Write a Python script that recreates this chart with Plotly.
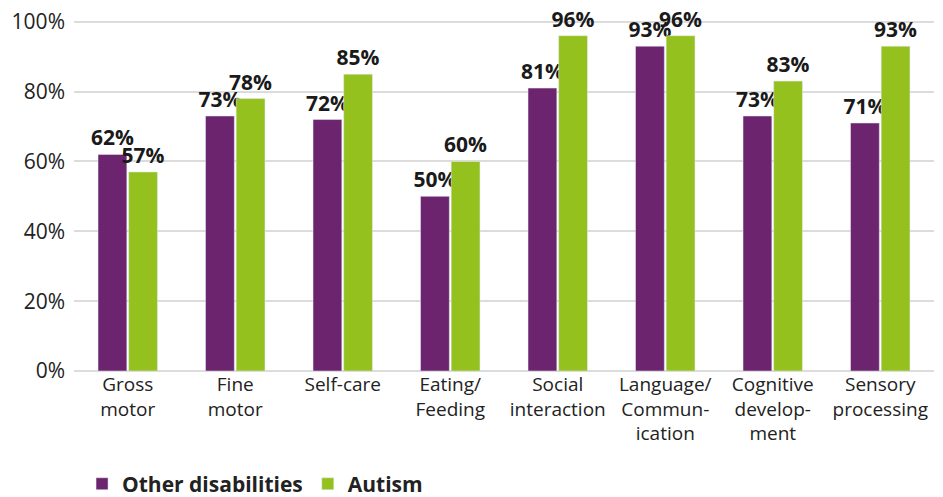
import plotly.graph_objects as go

categories = ["Gross<br>motor", "Fine<br>motor", "Self-care", "Eating/<br>Feeding",
              "Social<br>interaction", "Language/<br>Commun-<br>ication",
              "Cognitive<br>develop-<br>ment", "Sensory<br>processing"]
other_disabilities = [62, 73, 72, 50, 81, 93, 73, 71]
autism = [57, 78, 85, 60, 96, 96, 83, 93]
y_ticks = [0, 20, 40, 60, 80, 100]
y_tick_labels = ["0%", "20%", "40%", "60%", "80%", "100%"]

PURPLE = "#6B246D"
GREEN = "#95C11F"
FONT = "Open Sans"

fig = go.Figure()
fig.add_trace(go.Bar(
    x=categories, y=other_disabilities, name="<b>Other disabilities</b>",
    marker_color=PURPLE, text=[f"{v}%" for v in other_disabilities],
    textposition="outside", cliponaxis=False, constraintext="none",
    textfont=dict(family=FONT, size=21, color="#1a1a1a", weight="bold"),
))
fig.add_trace(go.Bar(
    x=categories, y=autism, name="<b>Autism</b>",
    marker_color=GREEN, text=[f"{v}%" for v in autism],
    textposition="outside", cliponaxis=False, constraintext="none",
    textfont=dict(family=FONT, size=21, color="#1a1a1a", weight="bold"),
))

fig.update_layout(
    width=943, height=497,
    margin=dict(l=74, r=9, t=20, b=126, autoexpand=False),
    paper_bgcolor="white", plot_bgcolor="white",
    barmode="group", bargap=0.43, bargroupgap=0.06,
    font=dict(family=FONT, size=18, color="#222222"),
    showlegend=True,
    legend=dict(orientation="h", x=0.087, xref="container", y=0.026, yref="container",
                yanchor="middle", xanchor="left",
                font=dict(family=FONT, size=21, color="#222222"),
                traceorder="normal", itemwidth=30),
    xaxis=dict(showline=False, ticks="", tickfont=dict(size=19), showgrid=False,
               automargin=False),
    yaxis=dict(range=[0, 100.5], tickvals=y_ticks, ticktext=y_tick_labels,
               showgrid=True, gridcolor="#dcdcdc", gridwidth=1.5,
               zeroline=True, zerolinecolor="#dcdcdc", zerolinewidth=2,
               tickfont=dict(size=21), ticks="", ticklabelstandoff=8,
               automargin=False),
)

fig.write_html("out.html", config={"displayModeBar": False},
               post_script="document.body.style.margin='0';document.body.style.overflow='hidden';")
